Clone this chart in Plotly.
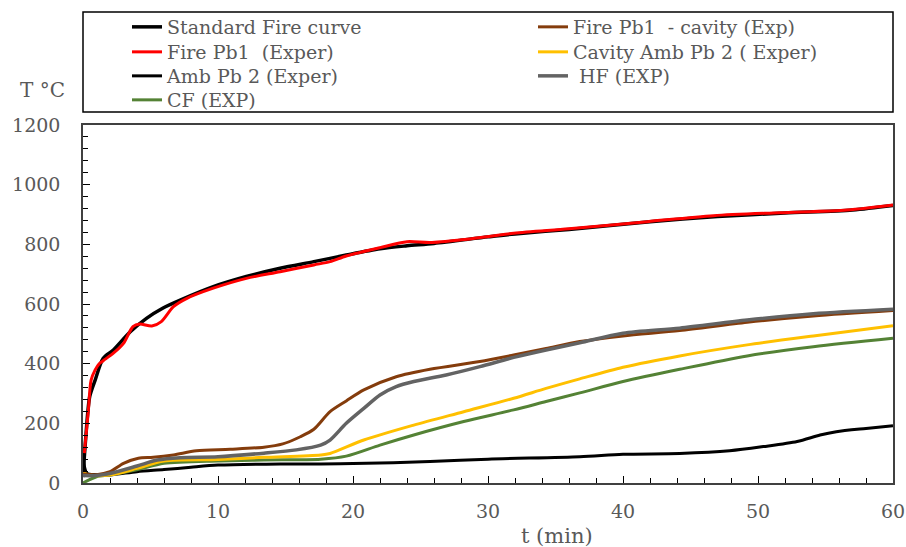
import plotly.graph_objects as go

# ---- data ----
t_std = [0, 0.2, 0.5, 0.9, 1.5, 2.25, 3.5, 4.7, 5.9, 7.2, 9.65, 12.1, 14.6, 17.1, 19.5, 22, 24, 26, 30, 32, 36, 42, 47, 52, 57, 60]
T_std = [20, 150, 290, 345, 418, 446, 507, 552, 586, 613, 658, 692, 720, 742, 764, 785, 795, 803, 825, 835, 850, 876, 893, 905, 915, 930]

t_fire = [0.1, 0.4, 0.6, 0.9, 1.2, 1.5, 2.25, 3.0, 3.7, 4.2, 5.1, 5.8, 6.7, 7.7, 9.65, 12.1, 14.6, 17.1, 18.3, 19.5, 22, 24, 25.7, 28, 31.9, 36, 41.8, 46.7, 51.6, 56.6, 60]
T_fire = [100, 245, 345, 379, 400, 410, 435, 468, 524, 533, 526, 541, 591, 619, 653, 686, 708, 731, 742, 761, 789, 809, 806, 815, 837, 852, 876, 896, 906, 915, 932]

t_amb = [0, 0.3, 1, 2, 4, 6, 8, 10, 14.6, 17.6, 20, 25.7, 30, 36.8, 40, 44.2, 47.9, 50.4, 52.9, 54.6, 55.8, 58, 60]
T_amb = [92, 32, 28, 27, 38, 45, 53, 60, 64, 64, 65, 72, 80, 88, 96, 99, 108, 122, 139, 161, 172, 183, 192]

t_cav = [0, 1, 2, 3, 4.1, 5.2, 6.7, 8.4, 10.9, 13.4, 14.8, 16.1, 17.1, 18.3, 19.5, 20.8, 23.2, 25.7, 29.4, 31.9, 34.3, 36.8, 40, 44.2, 49.2, 54.1, 60]
T_cav = [30, 28, 38, 66, 83, 86, 94, 108, 113, 120, 131, 155, 180, 239, 275, 312, 356, 381, 407, 429, 451, 474, 493, 511, 539, 560, 578]

t_hf = [0, 1, 2, 4, 5.5, 7.2, 10, 13.4, 15.8, 17.6, 18.3, 19.5, 20.8, 22, 23.2, 24.5, 26.9, 29.4, 31.9, 34.3, 36.8, 40, 44.2, 49.2, 54.1, 60]
T_hf = [25, 25, 32, 57, 77, 85, 88, 100, 111, 127, 144, 200, 250, 295, 323, 340, 362, 390, 421, 446, 470, 502, 519, 546, 567, 582]

t_camb = [0, 0.5, 2, 4, 6, 10, 13.4, 17.6, 18.3, 20.8, 24.5, 28.2, 31.9, 34.3, 36.8, 40, 44.2, 49.2, 54.1, 60]
T_camb = [35, 27, 27, 49, 74, 79, 86, 94, 99, 144, 194, 239, 284, 317, 349, 388, 426, 463, 493, 527]

t_cf = [0, 1, 2, 4, 6, 10, 13.4, 17.6, 19.5, 22, 24.5, 28.2, 31.9, 34.3, 36.8, 40, 44.2, 49.2, 54.1, 60]
T_cf = [0, 21, 27, 44, 66, 74, 77, 80, 90, 127, 161, 206, 245, 273, 302, 340, 381, 426, 457, 485]

y_ticks = [0, 200, 400, 600, 800, 1000, 1200]
x_ticks = [0, 10, 20, 30, 40, 50, 60]

FONT = "DejaVu Serif"
GRAY = "#595959"

# draw order (later = on top); legend placement given as (column, row)
series = [
    ("Amb Pb 2 (Exper)", t_amb, T_amb, "#000000", 3, (0, 2)),
    ("Standard Fire curve", t_std, T_std, "#000000", 3.5, (0, 0)),
    ("Fire Pb1  (Exper)", t_fire, T_fire, "#FF0000", 3, (0, 1)),
    ("CF (EXP)", t_cf, T_cf, "#548235", 3, (0, 3)),
    ("Cavity Amb Pb 2 ( Exper)", t_camb, T_camb, "#FFC000", 3, (1, 1)),
    ("Fire Pb1  - cavity (Exp)", t_cav, T_cav, "#843C0C", 3, (1, 0)),
    (" HF (EXP)", t_hf, T_hf, "#636363", 3.5, (1, 2)),
]

W, H = 906, 547
PL, PR, PT, PB = 83, 893, 125, 483          # plot area in window pixels
pw, ph = PR - PL, PB - PT

def px_x(px):
    return (px - PL) / pw

def px_y(py):
    return (PB - py) / ph

COL_X = [127, 533]
ROW_Y = [27, 52, 76, 100]
LEG_FONT = dict(family=FONT, size=19, color=GRAY)

fig = go.Figure()
legends = {}
for i, (name, tx, ty, col, w, (c, r)) in enumerate(series):
    lid = "legend" if i == 0 else f"legend{i + 1}"
    fig.add_trace(go.Scatter(
        x=tx, y=ty, mode="lines", name=name,
        line=dict(color=col, width=w, shape="spline", smoothing=0.8),
        legend=lid,
    ))
    legends[lid] = dict(x=px_x(COL_X[c]), y=px_y(ROW_Y[r]), xanchor="left", yanchor="middle",
                        orientation="v", bgcolor="rgba(0,0,0,0)", borderwidth=0,
                        font=LEG_FONT, tracegroupgap=0)

fig.update_layout(
    width=W, height=H,
    margin=dict(l=PL, r=W - PR, t=PT, b=H - PB, autoexpand=False),
    paper_bgcolor="white", plot_bgcolor="white",
    font=dict(family=FONT, size=19, color=GRAY),
    showlegend=True,
    shapes=[dict(type="rect", xref="paper", yref="paper",
                 x0=0, x1=1, y0=px_y(112), y1=px_y(12),
                 line=dict(color="#000000", width=1.5), fillcolor="rgba(0,0,0,0)")],
    annotations=[
        dict(text="T °C", xref="paper", yref="paper", x=px_x(42), y=px_y(90),
             showarrow=False, font=dict(family=FONT, size=20, color=GRAY),
             xanchor="center", yanchor="middle"),
        dict(text="t (min)", xref="paper", yref="paper", x=px_x(557), y=px_y(536),
             showarrow=False, font=dict(family=FONT, size=21, color=GRAY),
             xanchor="center", yanchor="middle"),
    ],
    **legends,
)

fig.update_xaxes(
    range=[0, 60], tickvals=x_ticks, ticktext=[str(v) for v in x_ticks],
    ticks="inside", ticklen=7, tickwidth=1.2, tickcolor="#000000",
    minor=dict(dtick=2, ticks="inside", ticklen=5, tickwidth=1, tickcolor="#000000"),
    showline=True, linecolor="#404040", linewidth=1.5, mirror=True,
    showgrid=False, zeroline=False, ticklabelstandoff=10,
    tickfont=dict(family=FONT, size=19, color=GRAY),
)
fig.update_yaxes(
    range=[0, 1200], tickvals=y_ticks, ticktext=[str(v) for v in y_ticks],
    ticks="inside", ticklen=7, tickwidth=1.2, tickcolor="#000000",
    minor=dict(dtick=40, ticks="inside", ticklen=5, tickwidth=1, tickcolor="#000000"),
    showline=True, linecolor="#404040", linewidth=1.5, mirror=True,
    showgrid=False, zeroline=False, ticklabelstandoff=17,
    tickfont=dict(family=FONT, size=19, color=GRAY),
)

fig.write_html("out.html", config={"displayModeBar": False},
               post_script="document.body.style.margin='0';")
